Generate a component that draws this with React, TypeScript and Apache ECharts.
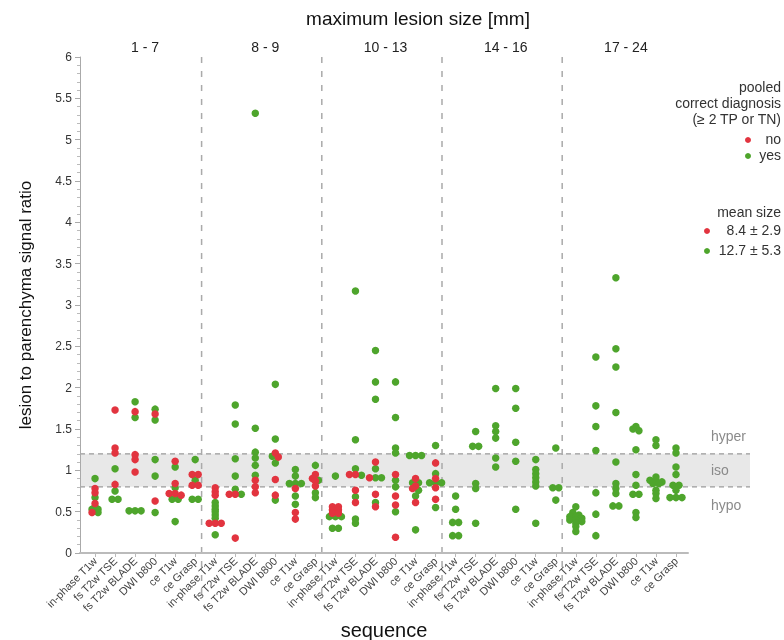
import React, { useEffect, useRef } from "react";
import * as echarts from "echarts";

const seqNames = ["in-phase T1w", "fs T2w TSE", "fs T2w BLADE", "DWI b800", "ce T1w", "ce Grasp"];
const sizeGroups = ["1 - 7", "8 - 9", "10 - 13", "14 - 16", "17 - 24"];
const yTicks = { min: 0, max: 6, interval: 0.5 };

// "no" (red) values, one list per sequence, per size group
const no_1_7 = [
  [0.78, 0.73, 0.6, 0.49],
  [1.73, 1.27, 1.21, 0.83],
  [1.71, 1.19, 1.13, 0.98],
  [1.68, 0.63],
  [1.11, 0.84, 0.72, 0.72, 0.7],
  [0.95, 0.95, 0.82, 0.82],
];
const no_8_9 = [
  [0.79, 0.74, 0.7, 0.36, 0.36, 0.36],
  [0.71, 0.71, 0.18],
  [0.88, 0.8, 0.73],
  [1.21, 1.16, 0.89, 0.7],
  [0.78, 0.49, 0.41],
  [0.95, 0.9, 0.87, 0.81],
];
const no_10_13 = [
  [0.56, 0.56, 0.52, 0.52, 0.48, 0.48],
  [0.95, 0.95, 0.76, 0.61],
  [1.1, 0.91, 0.71, 0.56],
  [0.95, 0.69, 0.58, 0.19],
  [0.9, 0.81, 0.78, 0.61],
  [1.09, 0.9, 0.79, 0.65],
];
const no_14_16 = [[], [], [], [], [], []];
const no_17_24 = [[], [], [], [], [], []];

// "yes" (green) values
const yes_1_7 = [
  [0.9, 0.67, 0.56, 0.53, 0.53, 0.49],
  [1.02, 0.75, 0.65, 0.65],
  [1.83, 1.64, 0.51, 0.51, 0.51],
  [1.74, 1.61, 1.13, 0.93, 0.49],
  [1.04, 0.79, 0.65, 0.65, 0.38],
  [1.13, 0.88, 0.65, 0.65],
];
const yes_8_9 = [
  [0.61, 0.57, 0.53, 0.5, 0.46, 0.42, 0.22],
  [1.79, 1.56, 1.14, 0.93, 0.77, 0.71],
  [5.32, 1.51, 1.22, 1.15, 1.06, 0.94],
  [2.04, 1.38, 1.17, 1.09, 0.64],
  [1.01, 0.93, 0.84, 0.84, 0.84, 0.69, 0.59],
  [1.06, 0.88, 0.73, 0.67],
];
const yes_10_13 = [
  [0.93, 0.44, 0.44, 0.44, 0.3, 0.3],
  [3.17, 1.37, 1.02, 0.94, 0.68, 0.41, 0.36],
  [2.45, 2.07, 1.86, 1.02, 0.91, 0.91, 0.61],
  [2.07, 1.64, 1.27, 1.21, 0.88, 0.8, 0.5],
  [1.18, 1.18, 1.18, 0.85, 0.85, 0.76, 0.69, 0.28],
  [1.3, 0.96, 0.85, 0.85, 0.85, 0.55],
];
const yes_14_16 = [
  [0.69, 0.53, 0.37, 0.37, 0.21, 0.21],
  [1.47, 1.29, 1.29, 0.84, 0.78, 0.36],
  [1.99, 1.54, 1.47, 1.39, 1.15, 1.04],
  [1.99, 1.75, 1.34, 1.11, 0.53],
  [1.13, 1.01, 0.96, 0.91, 0.86, 0.81, 0.36],
  [1.27, 0.79, 0.79, 0.64],
];
const yes_17_24 = [
  [0.56, 0.49, 0.46, 0.44, 0.44, 0.42, 0.4, 0.4, 0.38, 0.36, 0.32, 0.26],
  [2.37, 1.78, 1.53, 1.24, 0.73, 0.47, 0.21],
  [3.33, 2.47, 2.25, 1.7, 1.1, 0.84, 0.78, 0.72, 0.57, 0.57],
  [1.53, 1.5, 1.48, 1.25, 0.95, 0.82, 0.71, 0.71, 0.49, 0.43],
  [1.37, 1.3, 0.92, 0.88, 0.88, 0.86, 0.84, 0.84, 0.76, 0.72, 0.66],
  [1.27, 1.21, 1.04, 0.95, 0.82, 0.82, 0.76, 0.67, 0.67, 0.67],
];

const legendPooled = ["pooled", "correct diagnosis", "(\u2265 2 TP or TN)"];
const legendNames = ["no", "yes"];
const meanSizeTitle = "mean size";
const meanSizes = ["8.4 \u00b1 2.9", "12.7 \u00b1 5.3"];
const bandLabels = ["hyper", "iso", "hypo"];
const bandRange = [0.8, 1.2];

const RED = "#e2343f";
const GREEN = "#4ea52c";
const FONT = "'Liberation Sans', Arial, Helvetica, sans-serif";

const noAll = [no_1_7, no_8_9, no_10_13, no_14_16, no_17_24].flat();
const yesAll = [yes_1_7, yes_8_9, yes_10_13, yes_14_16, yes_17_24].flat();

function buildPoints() {
  const red: number[][] = [];
  const green: number[][] = [];
  for (let c = 0; c < noAll.length; c++) {
    const items = [
      ...noAll[c].map((v) => ({ v, s: 0 })),
      ...yesAll[c].map((v) => ({ v, s: 1 })),
    ].sort((a, b) => b.v - a.v);
    let i = 0;
    while (i < items.length) {
      let j = i;
      while (j + 1 < items.length && items[i].v - items[j + 1].v < 0.03) j++;
      const n = j - i + 1;
      for (let k = i; k <= j; k++) {
        const off = (k - i - (n - 1) / 2) * 0.3;
        const p = [c + off, items[k].v];
        (items[k].s === 0 ? red : green).push(p);
      }
      i = j + 1;
    }
  }
  return { red, green };
}

export default function App() {
  const ref = useRef<HTMLDivElement>(null);
  useEffect(() => {
    const chart = echarts.init(ref.current!, null, { renderer: "svg" });
    const { red, green } = buildPoints();
    const catIdx = Array.from({ length: sizeGroups.length * seqNames.length }, (_, i) => i);
    chart.setOption({
      animation: false,
      textStyle: { fontFamily: FONT },
      grid: { left: 80, right: 96, top: 57, bottom: 87, containLabel: false, outerBoundsMode: "none" },
      xAxis: {
        type: "value",
        min: -0.75,
        max: 29.6,
        name: "sequence",
        nameLocation: "middle",
        nameGap: 64,
        nameTextStyle: { fontSize: 20, color: "#111", fontFamily: FONT },
        splitLine: { show: false },
        axisLine: { onZero: false, lineStyle: { color: "#bbbbbb", width: 2 } },
        axisTick: { customValues: catIdx, length: 4, lineStyle: { color: "#bbbbbb" } },
        axisLabel: {
          customValues: catIdx,
          rotate: 45,
          fontSize: 11,
          color: "#444",
          margin: 6,
          formatter: (v: number) => seqNames[Math.round(v) % seqNames.length],
        },
      },
      yAxis: {
        type: "value",
        min: yTicks.min,
        max: yTicks.max,
        interval: yTicks.interval,
        name: "lesion to parenchyma signal ratio",
        nameLocation: "middle",
        nameGap: 46,
        nameTextStyle: { fontSize: 17, color: "#111", fontFamily: FONT },
        splitLine: { show: false },
        axisLine: { show: true, onZero: false, lineStyle: { color: "#aaaaaa" } },
        axisTick: { show: true, length: 5, lineStyle: { color: "#aaaaaa" } },
        minorTick: { show: true, splitNumber: 5, length: 3, lineStyle: { color: "#bbbbbb" } },
        axisLabel: { fontSize: 12, color: "#333", margin: 8 },
      },
      series: [
        {
          type: "scatter",
          name: legendNames[1],
          data: green,
          symbolSize: 7.5,
          itemStyle: { color: GREEN, opacity: 1 },
          z: 3,
        },
        {
          type: "scatter",
          name: legendNames[0],
          data: red,
          symbolSize: 7.5,
          itemStyle: { color: RED, opacity: 1 },
          z: 4,
        },
      ],
    });

    const px = (x: number, y: number) => chart.convertToPixel({ gridIndex: 0 }, [x, y]) as number[];
    const left = px(-0.75, 0)[0];
    const y0 = px(0, 0)[1];
    const y6 = px(0, 6)[1];
    const yLo = px(0, bandRange[0])[1];
    const yHi = px(0, bandRange[1])[1];
    const yMid = px(0, (bandRange[0] + bandRange[1]) / 2)[1];
    const bandRight = 750;
    const els: any[] = [];
    els.push({
      type: "rect",
      z: -10,
      shape: { x: left, y: yHi, width: bandRight - left, height: yLo - yHi },
      style: { fill: "#e8e8e8" },
    });
    [yHi, yLo].forEach((yy) =>
      els.push({
        type: "line",
        z: -5,
        shape: { x1: left, y1: yy, x2: bandRight, y2: yy },
        style: { stroke: "#9a9a9a", lineWidth: 1.2, lineDash: [5, 4] },
      })
    );
    for (let k = 1; k < sizeGroups.length; k++) {
      const sx = px(k * seqNames.length - 0.68, 0)[0];
      els.push({
        type: "line",
        z: -4,
        shape: { x1: sx, y1: y6, x2: sx, y2: y0 + 46 },
        style: { stroke: "#aaaaaa", lineWidth: 1.5, lineDash: [6, 8] },
      });
    }
    sizeGroups.forEach((g, k) => {
      const cx = px(k * seqNames.length + (seqNames.length - 1) / 2, 0)[0];
      els.push({
        type: "text",
        x: cx,
        y: 47,
        style: { text: g, fontSize: 14, fill: "#222", align: "center", verticalAlign: "middle", fontFamily: FONT },
      });
    });
    els.push({
      type: "text",
      x: 418,
      y: 18,
      style: { text: "maximum lesion size [mm]", fontSize: 19, fill: "#111", align: "center", verticalAlign: "middle", fontFamily: FONT },
    });
    const bandYs = [yHi - 18, yMid, yLo + 18];
    bandLabels.forEach((t, i) =>
      els.push({
        type: "text",
        x: 711,
        y: bandYs[i],
        style: { text: t, fontSize: 14, fill: "#8a8a8a", align: "left", verticalAlign: "middle", fontFamily: FONT },
      })
    );
    const R = 781;
    const lt = (t: string, y: number) =>
      els.push({
        type: "text",
        x: R,
        y,
        style: { text: t, fontSize: 14, fill: "#333", align: "right", verticalAlign: "middle", fontFamily: FONT },
      });
    lt(legendPooled[0], 87);
    lt(legendPooled[1], 103);
    lt(legendPooled[2], 119);
    lt(legendNames[0], 139);
    lt(legendNames[1], 155);
    els.push({ type: "circle", shape: { cx: 748, cy: 140, r: 3 }, style: { fill: RED } });
    els.push({ type: "circle", shape: { cx: 748, cy: 156, r: 3 }, style: { fill: GREEN } });
    lt(meanSizeTitle, 212);
    lt(meanSizes[0], 230);
    lt(meanSizes[1], 250);
    els.push({ type: "circle", shape: { cx: 707, cy: 231, r: 3 }, style: { fill: RED } });
    els.push({ type: "circle", shape: { cx: 707, cy: 251, r: 3 }, style: { fill: GREEN } });

    chart.setOption({ graphic: { elements: els } });
    return () => chart.dispose();
  }, []);
  return <div ref={ref} style={{ position: "fixed", left: 0, top: 0, width: 784, height: 640 }} />;
}
